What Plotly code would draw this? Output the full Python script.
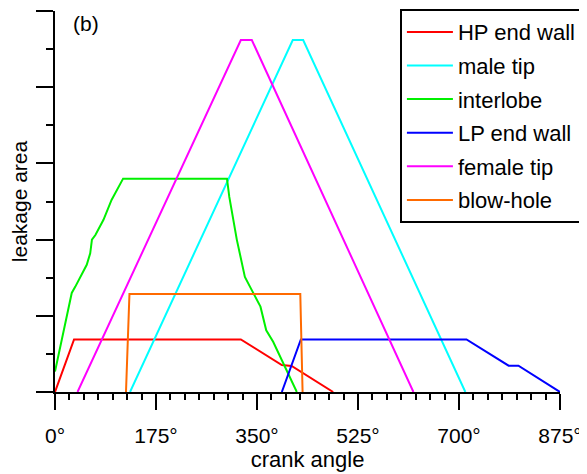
import plotly.graph_objects as go

# ---- data (crank angle in degrees, leakage area in arbitrary units) ----
hp_x = [0, 33, 322, 393, 410, 482]
hp_y = [0, 0.69, 0.69, 0.354, 0.341, 0]

male_x = [130, 412, 430, 711]
male_y = [0, 4.62, 4.62, 0]

inter_x = [0, 29, 35, 46, 55, 61, 64, 70, 84, 98, 118, 298, 302, 315, 329, 338, 352, 356, 366, 378, 419]
inter_y = [0.27, 1.30, 1.38, 1.53, 1.67, 1.82, 2.0, 2.06, 2.26, 2.52, 2.80, 2.80, 2.56, 2.0, 1.51, 1.38, 1.19, 1.12, 0.81, 0.66, 0]

lp_x = [393, 426, 713, 786, 803, 875]
lp_y = [0, 0.69, 0.69, 0.345, 0.345, 0]

female_x = [39, 322, 341, 621]
female_y = [0, 4.62, 4.62, 0]

blow_x = [123, 129, 425, 429]
blow_y = [0, 1.286, 1.286, 0]

series = [
    ("HP end wall", hp_x, hp_y, "#ff0000"),
    ("male tip", male_x, male_y, "#00ffff"),
    ("interlobe", inter_x, inter_y, "#00f000"),
    ("LP end wall", lp_x, lp_y, "#0000ff"),
    ("female tip", female_x, female_y, "#ff00ff"),
    ("blow-hole", blow_x, blow_y, "#ff6a00"),
]

x_tickvals = [0, 175, 350, 525, 700, 875]
x_ticktext = ["0°", "175°", "350°", "525°", "700°", "875°"]

FONT = "Liberation Sans, Arial, sans-serif"

fig = go.Figure()
for i, (name, xs, ys, col) in enumerate(series):
    fig.add_trace(go.Scatter(x=xs, y=ys, mode="lines", name=name,
                             legendgroup=f"g{i}",
                             line=dict(color=col, width=2)))

fig.update_layout(
    width=579, height=466,
    margin=dict(l=47, r=27, t=3, b=82, autoexpand=False),
    paper_bgcolor="white", plot_bgcolor="white",
    font=dict(family=FONT, size=21, color="black"),
    showlegend=True,
    legend=dict(x=0.683, y=1.005, xanchor="left", yanchor="top",
                bordercolor="black", borderwidth=2, bgcolor="white",
                font=dict(size=22, family=FONT), tracegroupgap=2, itemwidth=46),
    xaxis=dict(range=[0, 875], tickmode="array", tickvals=x_tickvals, ticktext=x_ticktext,
               ticks="outside", ticklen=16, tickwidth=2, tickcolor="black",
               minor=dict(dtick=25, ticks="outside", ticklen=6, tickwidth=2, tickcolor="black"),
               showline=True, linecolor="black", linewidth=2,
               showgrid=False, zeroline=False, automargin=False,
               ticklabelstandoff=8,
               title=dict(text="crank angle", standoff=0, font=dict(size=22, family=FONT)),
               tickfont=dict(size=21, family=FONT)),
    yaxis=dict(range=[0, 5], dtick=1, tick0=0,
               ticks="outside", ticklen=17, tickwidth=2, tickcolor="black",
               minor=dict(dtick=0.5, ticks="outside", ticklen=7, tickwidth=2, tickcolor="black"),
               showline=True, linecolor="black", linewidth=2,
               showgrid=False, zeroline=False, showticklabels=False, automargin=False,
               title=dict(text="leakage area", standoff=4, font=dict(size=21, family=FONT))),
    annotations=[dict(text="(b)", x=0.031, y=0.966, xref="paper", yref="paper",
                      xanchor="left", yanchor="middle", showarrow=False,
                      font=dict(size=21, family=FONT))],
)

fig.write_html("out.html")
